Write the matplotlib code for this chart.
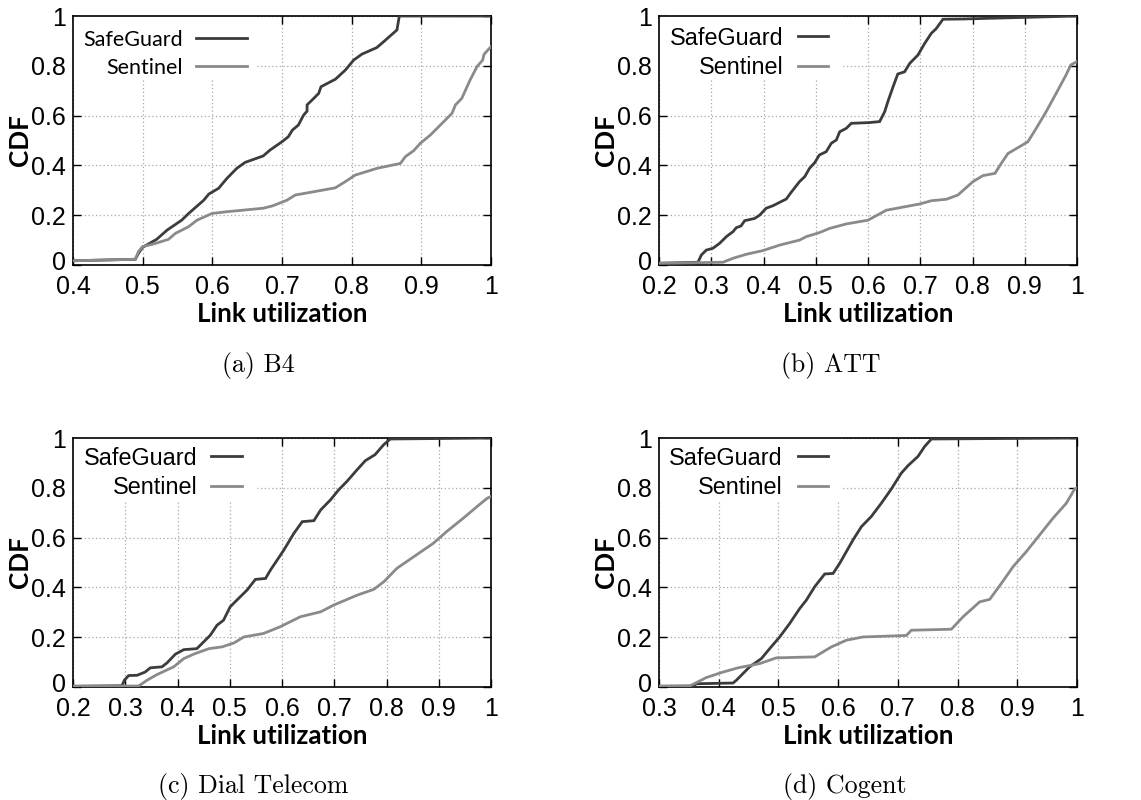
import matplotlib
matplotlib.use("Agg")
import matplotlib.pyplot as plt
from matplotlib.patches import Rectangle
from matplotlib.transforms import ScaledTranslation

# ---------------- data ----------------
b4_safeguard_x = [0.4, 0.4895, 0.494, 0.5, 0.52, 0.535, 0.556, 0.566, 0.5876, 0.595, 0.609, 0.621, 0.635, 0.647,
                  0.673, 0.683, 0.7, 0.709, 0.715, 0.7235, 0.731, 0.736, 0.736, 0.7455, 0.7526, 0.756, 0.767,
                  0.7766, 0.791, 0.8029, 0.8148, 0.836, 0.846, 0.865, 0.8684, 1.0]
b4_safeguard_y = [0.017, 0.023, 0.047, 0.071, 0.103, 0.14, 0.18, 0.207, 0.26, 0.285, 0.308, 0.348, 0.388, 0.412,
                  0.438, 0.462, 0.495, 0.515, 0.542, 0.562, 0.602, 0.618, 0.643, 0.669, 0.689, 0.716, 0.732,
                  0.746, 0.783, 0.823, 0.847, 0.873, 0.897, 0.944, 1.0, 1.0]
b4_sentinel_x = [0.4, 0.4895, 0.494, 0.5, 0.515, 0.537, 0.547, 0.566, 0.578, 0.5995, 0.621, 0.673, 0.686, 0.707,
                 0.719, 0.755, 0.7766, 0.791, 0.805, 0.836, 0.87, 0.877, 0.889, 0.8986, 0.913, 0.944, 0.949,
                 0.958, 0.97, 0.98, 0.988, 0.990, 0.999, 1.0]
b4_sentinel_y = [0.017, 0.023, 0.054, 0.074, 0.084, 0.103, 0.127, 0.154, 0.18, 0.207, 0.214, 0.228, 0.237, 0.26,
                 0.281, 0.299, 0.31, 0.335, 0.361, 0.388, 0.408, 0.435, 0.459, 0.489, 0.522, 0.609, 0.643,
                 0.669, 0.743, 0.797, 0.823, 0.846, 0.874, 0.877]

att_safeguard_x = [0.2, 0.2746, 0.281, 0.2906, 0.303, 0.316, 0.329, 0.3416, 0.348, 0.357, 0.364, 0.383, 0.3926,
                   0.405, 0.418, 0.4436, 0.453, 0.469, 0.479, 0.488, 0.498, 0.507, 0.520, 0.5298, 0.5394, 0.5458,
                   0.5585, 0.568, 0.603, 0.6223, 0.632, 0.638, 0.648, 0.657, 0.670, 0.680, 0.6955, 0.7085, 0.721,
                   0.7308, 0.7435, 0.782, 1.0]
att_safeguard_y = [0.007, 0.011, 0.04, 0.06, 0.067, 0.087, 0.114, 0.134, 0.15, 0.157, 0.178, 0.187, 0.2,
                   0.228, 0.238, 0.265, 0.292, 0.335, 0.355, 0.388, 0.411, 0.442, 0.455, 0.489, 0.502, 0.535,
                   0.549, 0.569, 0.572, 0.576, 0.616, 0.656, 0.716, 0.767, 0.776, 0.81, 0.843, 0.89, 0.93,
                   0.95, 0.987, 0.988, 1.0]
att_sentinel_x = [0.2, 0.3225, 0.3416, 0.367, 0.399, 0.431, 0.469, 0.482, 0.507, 0.5266, 0.5585, 0.6, 0.635,
                  0.699, 0.721, 0.750, 0.772, 0.801, 0.820, 0.843, 0.855, 0.868, 0.890, 0.906, 0.922, 0.941,
                  0.960, 0.979, 0.988, 1.0]
att_sentinel_y = [0.007, 0.011, 0.027, 0.043, 0.058, 0.08, 0.10, 0.114, 0.13, 0.147, 0.165, 0.18, 0.22,
                  0.245, 0.258, 0.264, 0.281, 0.335, 0.359, 0.368, 0.408, 0.448, 0.475, 0.495, 0.549, 0.616,
                  0.689, 0.763, 0.803, 0.817]

dial_safeguard_x = [0.2, 0.2938, 0.2982, 0.3065, 0.3225, 0.338, 0.348, 0.3703, 0.380, 0.396, 0.412, 0.437, 0.45,
                    0.4628, 0.4756, 0.488, 0.5008, 0.517, 0.533, 0.549, 0.5685, 0.578, 0.5908, 0.6035, 0.6227,
                    0.6387, 0.661, 0.674, 0.693, 0.7085, 0.7244, 0.7435, 0.7595, 0.778, 0.7946, 0.8073, 1.0]
dial_safeguard_y = [0.003, 0.005, 0.027, 0.046, 0.047, 0.06, 0.077, 0.081, 0.097, 0.132, 0.150, 0.154, 0.181,
                    0.208, 0.248, 0.268, 0.322, 0.356, 0.389, 0.432, 0.436, 0.470, 0.510, 0.550, 0.617,
                    0.664, 0.668, 0.711, 0.752, 0.792, 0.826, 0.872, 0.909, 0.933, 0.973, 0.996, 1.0]
dial_sentinel_x = [0.2, 0.3257, 0.3416, 0.3608, 0.3927, 0.412, 0.431, 0.460, 0.4852, 0.508, 0.527, 0.5647,
                   0.5966, 0.635, 0.674, 0.699, 0.744, 0.7755, 0.795, 0.8201, 0.852, 0.8895, 0.915, 0.947,
                   0.9735, 0.9927, 1.0]
dial_sentinel_y = [0.003, 0.004, 0.027, 0.05, 0.081, 0.114, 0.132, 0.154, 0.161, 0.177, 0.201, 0.215,
                   0.242, 0.282, 0.302, 0.329, 0.369, 0.392, 0.423, 0.477, 0.523, 0.577, 0.624, 0.678,
                   0.725, 0.758, 0.765]

cogent_safeguard_x = [0.3, 0.357, 0.3625, 0.4239, 0.4295, 0.4518, 0.4714, 0.4853, 0.5021, 0.5188, 0.5356,
                      0.5468, 0.5608, 0.5775, 0.5915, 0.6027, 0.625, 0.639, 0.6556, 0.6723, 0.689, 0.7058,
                      0.717, 0.7337, 0.7449, 0.7561, 1.0]
cogent_safeguard_y = [0.003, 0.004, 0.013, 0.016, 0.027, 0.081, 0.114, 0.154, 0.201, 0.255, 0.315,
                      0.349, 0.403, 0.454, 0.456, 0.497, 0.591, 0.644, 0.685, 0.738, 0.795, 0.859,
                      0.889, 0.926, 0.966, 0.996, 1.0]
cogent_sentinel_x = [0.3, 0.3514, 0.3793, 0.4072, 0.4323, 0.4686, 0.4965, 0.5608, 0.5887, 0.6139, 0.6417,
                     0.7143, 0.7226, 0.7896, 0.8092, 0.837, 0.8538, 0.8733, 0.8929, 0.9152, 0.9375, 0.9598,
                     0.9821, 0.996, 1.0]
cogent_sentinel_y = [0.003, 0.004, 0.038, 0.06, 0.077, 0.094, 0.117, 0.121, 0.161, 0.188, 0.201,
                     0.207, 0.228, 0.232, 0.282, 0.342, 0.352, 0.416, 0.483, 0.544, 0.611, 0.678,
                     0.738, 0.795, 0.799]

captions = ["(a) B4", "(b) ATT", "(c) Dial Telecom", "(d) Cogent"]
series_names = ["SafeGuard", "Sentinel"]
x_starts = [0.4, 0.2, 0.2, 0.3]
y_ticks = [0, 0.2, 0.4, 0.6, 0.8, 1]
y_ticklabels = ["0", "0.2", "0.4", "0.6", "0.8", "1"]

panels = [
    (b4_safeguard_x, b4_safeguard_y, b4_sentinel_x, b4_sentinel_y),
    (att_safeguard_x, att_safeguard_y, att_sentinel_x, att_sentinel_y),
    (dial_safeguard_x, dial_safeguard_y, dial_sentinel_x, dial_sentinel_y),
    (cogent_safeguard_x, cogent_safeguard_y, cogent_sentinel_x, cogent_sentinel_y),
]

# ---------------- style ----------------
W, H = 1141, 800
fig = plt.figure(figsize=(W / 100, H / 100), dpi=100)
fig.patch.set_facecolor("white")

DARK = "#3c3c3c"
LIGHT = "#8a8a8a"
TICKFONT = "Liberation Sans"
LABELFONT = "Lato"
CAPFONT = "cmr10"

# axes boxes in pixels: (left, top, right, bottom)
boxes = [(73, 16, 491, 265), (659, 16, 1077, 265), (73, 438, 491, 687), (659, 438, 1077, 687)]
caption_pos = [(258, 365), (831, 365), (253, 787), (845, 787)]

# legend layout: (text right x, line start, line end, y1, y2, font, size) in axes fraction
legend_layout = [
    (0.263, 0.294, 0.416, 0.905, 0.792, "Lato", 15.5),
    (0.297, 0.333, 0.404, 0.910, 0.793, TICKFONT, 16.8),
    (0.297, 0.330, 0.404, 0.918, 0.800, TICKFONT, 16.8),
    (0.295, 0.333, 0.404, 0.918, 0.800, TICKFONT, 16.8),
]

for i, (l, t, r, b) in enumerate(boxes):
    ax = fig.add_axes([l / W, 1 - b / H, (r - l) / W, (b - t) / H])
    sgx, sgy, snx, sny = panels[i]
    ax.plot(sgx, sgy, color=DARK, lw=2.0, zorder=3, solid_joinstyle="miter")
    ax.plot(snx, sny, color=LIGHT, lw=2.0, zorder=3, solid_joinstyle="miter")

    x0 = x_starts[i]
    ax.set_xlim(x0, 1.0)
    ax.set_ylim(0, 1.0)
    xt = [round(x0 + 0.1 * k, 1) for k in range(int(round((1.0 - x0) / 0.1)) + 1)]
    ax.set_xticks(xt)
    ax.set_xticklabels(["1" if v == 1.0 else f"{v:.1f}" for v in xt], fontname=TICKFONT, fontsize=18)
    ax.set_yticks(y_ticks)
    ax.set_yticklabels(y_ticklabels, fontname=TICKFONT, fontsize=18)
    ax.tick_params(direction="in", length=6, width=1, top=True, right=True, colors="black")
    ax.tick_params(axis="x", pad=7)
    ax.tick_params(axis="y", pad=5)
    # nudge the "0" y label up slightly so it clears the x tick labels
    zero_lbl = ax.get_yticklabels()[0]
    zero_lbl.set_transform(zero_lbl.get_transform() + ScaledTranslation(0, 3 / 72, fig.dpi_scale_trans))
    for s in ax.spines.values():
        s.set_linewidth(1.2)
        s.set_color("black")

    ax.set_axisbelow(True)
    ax.grid(True, linestyle=(0, (1, 2)), color="#a8a8a8", lw=0.9)

    # opaque legend area
    ax.add_patch(Rectangle((0, 0.745), 0.44, 0.255, transform=ax.transAxes,
                           facecolor="white", edgecolor="none", zorder=1))

    tx, ls, le, y1, y2, lf, lsz = legend_layout[i]
    ax.text(tx, y1, series_names[0], transform=ax.transAxes, ha="right", va="center",
            fontname=lf, fontsize=lsz, zorder=4)
    ax.text(tx, y2, series_names[1], transform=ax.transAxes, ha="right", va="center",
            fontname=lf, fontsize=lsz, zorder=4)
    ax.plot([ls, le], [y1 + 0.008, y1 + 0.008], transform=ax.transAxes, color=DARK, lw=2.0, zorder=4)
    ax.plot([ls, le], [y2 + 0.008, y2 + 0.008], transform=ax.transAxes, color=LIGHT, lw=2.0, zorder=4)

    ax.set_xlabel("Link utilization", fontname=LABELFONT, fontweight="bold", fontsize=18.7)
    ax.set_ylabel("CDF", fontname=LABELFONT, fontweight="bold", fontsize=18.7)
    ax.xaxis.set_label_coords(0.5, -0.15)
    ax.yaxis.set_label_coords(-0.098, 0.5)

    cx, cy = caption_pos[i]
    fig.text(cx / W, 1 - cy / H, captions[i], ha="center", va="center",
             fontname=CAPFONT, fontsize=18.6)

fig.savefig("out.png", dpi=100)
